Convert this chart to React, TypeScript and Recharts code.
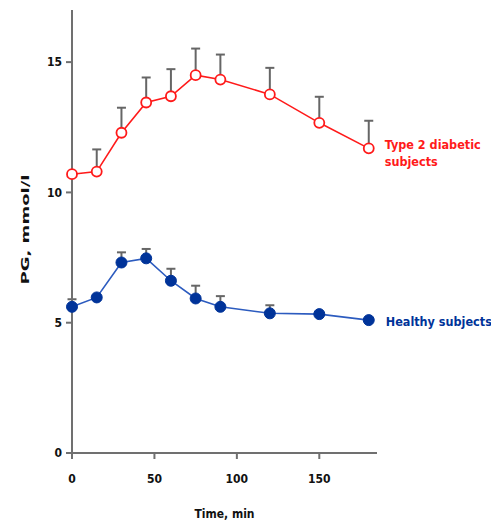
import React from "react";
import { LineChart, Line, XAxis, YAxis, ErrorBar, Label, LabelList } from "recharts";

// Plasma glucose during the test, mean with upward SEM bars
const times = [0, 15, 30, 45, 60, 75, 90, 120, 150, 180];
const diabeticPG = [10.7, 10.8, 12.29, 13.45, 13.69, 14.5, 14.33, 13.76, 12.67, 11.69];
const diabeticSEM = [0, 0.85, 0.96, 0.96, 1.04, 1.02, 0.96, 1.02, 1.0, 1.06];
const healthyPG = [5.61, 5.97, 7.31, 7.47, 6.61, 5.93, 5.61, 5.36, 5.33, 5.1];
const healthySEM = [0.29, 0, 0.39, 0.36, 0.46, 0.49, 0.41, 0.31, 0, 0];
const xTicks = [0, 50, 100, 150];
const yTicks = [0, 5, 10, 15];

const data = times.map((t, i) => ({
  t,
  diabetic: diabeticPG[i],
  diabeticErr: [0, diabeticSEM[i]],
  healthy: healthyPG[i],
  healthyErr: [0, healthySEM[i]],
}));

const FONT = "'DejaVu Sans Condensed', 'DejaVu Sans', sans-serif";
const AXIS = "#707070";
const RED = "#ff1a1a";
const BLUE = "#003399";
const last = times.length - 1;

const DiabeticTag = (props: any) => {
  const { x, y, index } = props;
  if (index !== last) return null;
  return (
    <text x={x + 16} y={y + 1} fill={RED} fontFamily={FONT} fontWeight="bold" fontSize={12.5}>
      <tspan x={x + 16}>Type 2 diabetic</tspan>
      <tspan x={x + 16} dy={17}>subjects</tspan>
    </text>
  );
};

const HealthyTag = (props: any) => {
  const { x, y, index } = props;
  if (index !== last) return null;
  return (
    <text x={x + 17} y={y + 5.5} fill={BLUE} fontFamily={FONT} fontWeight="bold" fontSize={12.5}>
      Healthy subjects
    </text>
  );
};

const YTitle = (props: any) => {
  const vb = props.viewBox || {};
  const cx = vb.x + 25;
  const cy = vb.y + vb.height / 2 - 2;
  return (
    <text
      x={cx}
      y={cy}
      transform={`rotate(-90, ${cx}, ${cy})`}
      textAnchor="middle"
      dominantBaseline="central"
      fill="#111"
      fontFamily="'DejaVu Sans', sans-serif"
      fontWeight="bold"
      fontSize={11}
      textLength={110}
      lengthAdjust="spacingAndGlyphs"
    >
      PG, mmol/l
    </text>
  );
};

export default function App() {
  const tickStyle = { fill: "#111", fontFamily: FONT, fontWeight: "bold", fontSize: 12 } as any;
  return (
    <div style={{ position: "absolute", left: 0, top: 0, background: "#fff" }}>
      <LineChart
        width={491}
        height={525}
        data={data}
        margin={{ top: 10, right: 114, left: 0, bottom: 0 }}
      >
        <XAxis
          dataKey="t"
          type="number"
          domain={[0, 185]}
          ticks={xTicks}
          height={72}
          stroke={AXIS}
          strokeWidth={2}
          tickSize={6}
          tickMargin={15}
          tick={tickStyle}
          tickLine={{ stroke: AXIS, strokeWidth: 2 }}
        >
          <Label
            value="Time, min"
            position="insideBottom"
            offset={7}
            fill="#111"
            fontFamily={FONT}
            fontWeight="bold"
            fontSize={12}
          />
        </XAxis>
        <YAxis
          type="number"
          domain={[0, 17]}
          ticks={yTicks}
          width={72}
          stroke={AXIS}
          strokeWidth={2}
          tickSize={6}
          tickMargin={4}
          tick={tickStyle}
          tickLine={{ stroke: AXIS, strokeWidth: 2 }}
        >
          <Label content={<YTitle />} />
        </YAxis>
        <Line
          dataKey="diabetic"
          stroke={RED}
          strokeWidth={1.6}
          isAnimationActive={false}
          dot={{ r: 5, fill: "#fff", stroke: RED, strokeWidth: 1.8 }}
        >
          <ErrorBar dataKey="diabeticErr" direction="y" width={4.5} stroke="#666" strokeWidth={2} />
          <LabelList dataKey="diabetic" content={<DiabeticTag />} />
        </Line>
        <Line
          dataKey="healthy"
          stroke="#2c5bbf"
          strokeWidth={1.6}
          isAnimationActive={false}
          dot={{ r: 5.5, fill: BLUE, stroke: BLUE, strokeWidth: 1 }}
        >
          <ErrorBar dataKey="healthyErr" direction="y" width={4.5} stroke="#666" strokeWidth={2} />
          <LabelList dataKey="healthy" content={<HealthyTag />} />
        </Line>
      </LineChart>
    </div>
  );
}
